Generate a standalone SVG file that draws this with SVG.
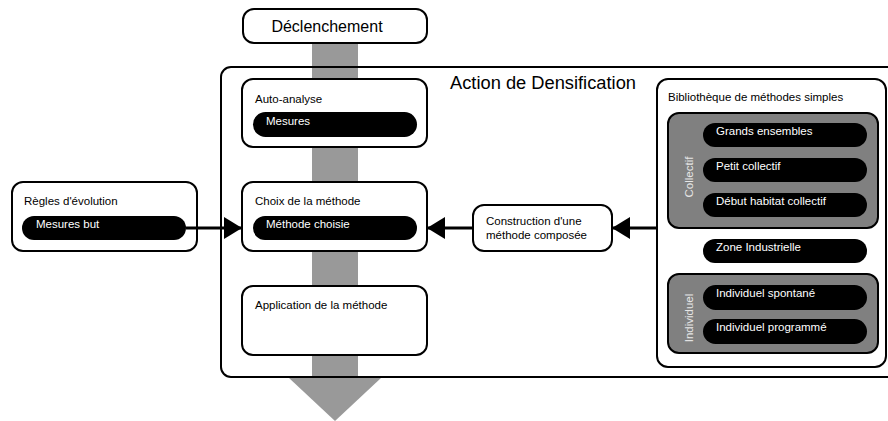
<svg xmlns="http://www.w3.org/2000/svg" width="888" height="421" viewBox="0 0 888 421">
<style>
.box{fill:#fff;stroke:#000;stroke-width:2}
.grp{fill:#808080;stroke:#000;stroke-width:2}
.pill{fill:#000}
.t{font-family:"Liberation Sans",Arial,sans-serif;font-size:11.5px;fill:#000}
.w{font-family:"Liberation Sans",Arial,sans-serif;font-size:11.5px;fill:#fff}
.v{font-family:"Liberation Sans",Arial,sans-serif;font-size:11.5px;fill:#e6e6e6}
.flow{fill:#999}
.conn{stroke:#000;stroke-width:3;fill:none}
</style>
<defs>
<marker id="ah" markerUnits="userSpaceOnUse" markerWidth="18" markerHeight="22" refX="18" refY="11" orient="auto">
<path d="M0,0 L18,11 L0,22 Z" fill="#000"/>
</marker>
</defs>
<g id="flow">
<rect class="flow" x="312" y="43" width="46" height="336"/>
<path class="flow" d="M289,378 L381,378 L335,421 Z"/>
</g>
<g id="trigger">
<rect class="box" x="243" y="9" width="184" height="34" rx="11"/>
<text x="327" y="32" text-anchor="middle" font-family="Liberation Sans, Arial, sans-serif" font-size="16">Déclenchement</text>
</g>
<g id="action">
<rect x="221" y="67" width="680" height="310" rx="10" fill="none" stroke="#000" stroke-width="2"/>
<rect class="flow" x="312" y="68" width="46" height="308"/>
<text x="450" y="89" font-family="Liberation Sans, Arial, sans-serif" font-size="18.3">Action de Densification</text>
</g>
<g id="auto-analyse">
<rect class="box" x="242" y="79" width="185" height="68" rx="11"/>
<text class="t" x="255" y="103">Auto-analyse</text>
<rect class="pill" x="253" y="112" width="164" height="25" rx="12.5"/>
<text class="w" x="266" y="125">Mesures</text>
</g>
<g id="choix">
<rect class="box" x="242" y="182" width="185" height="69" rx="11"/>
<text class="t" x="255" y="205">Choix de la méthode</text>
<rect class="pill" x="253" y="216" width="164" height="24" rx="12"/>
<text class="w" x="266" y="228">Méthode choisie</text>
</g>
<g id="application">
<rect class="box" x="242" y="286" width="185" height="69" rx="11"/>
<text class="t" x="255" y="309">Application de la méthode</text>
</g>
<g id="regles">
<rect class="box" x="12" y="182" width="185" height="69" rx="11"/>
<text class="t" x="24" y="205">Règles d'évolution</text>
<rect class="pill" x="22" y="216" width="164" height="24" rx="12"/>
<text class="w" x="36" y="228">Mesures but</text>
</g>
<g id="construction">
<rect class="box" x="473" y="205" width="139" height="46" rx="11"/>
<text class="t" x="486" y="225">Construction d'une</text>
<text class="t" x="486" y="239">méthode composée</text>
</g>
<g id="bibliotheque">
<rect class="box" x="657" y="79" width="229" height="288" rx="11"/>
<text class="t" x="668" y="101">Bibliothèque de méthodes simples</text>
</g>
<g id="collectif">
<rect class="grp" x="668" y="113" width="210" height="115" rx="11"/>
<text class="v" transform="translate(693,177) rotate(-90)" text-anchor="middle">Collectif</text>
<rect class="pill" x="703" y="123" width="164" height="24" rx="12"/>
<text class="w" x="716" y="135">Grands ensembles</text>
<rect class="pill" x="703" y="158" width="164" height="24" rx="12"/>
<text class="w" x="716" y="170">Petit collectif</text>
<rect class="pill" x="703" y="193" width="164" height="24" rx="12"/>
<text class="w" x="716" y="205">Début habitat collectif</text>
</g>
<g id="zone-industrielle">
<rect class="pill" x="703" y="239" width="164" height="24" rx="12"/>
<text class="w" x="716" y="251">Zone Industrielle</text>
</g>
<g id="individuel">
<rect class="grp" x="668" y="274" width="210" height="79" rx="11"/>
<text class="v" transform="translate(693,318) rotate(-90)" text-anchor="middle">Individuel</text>
<rect class="pill" x="703" y="285" width="164" height="25" rx="12.5"/>
<text class="w" x="716" y="297">Individuel spontané</text>
<rect class="pill" x="703" y="319" width="164" height="25" rx="12.5"/>
<text class="w" x="716" y="331">Individuel programmé</text>
</g>
<g id="connectors">
<line class="conn" x1="186" y1="228" x2="242" y2="228" marker-end="url(#ah)"/>
<line class="conn" x1="473" y1="228" x2="427" y2="228" marker-end="url(#ah)"/>
<line class="conn" x1="657" y1="228" x2="612" y2="228" marker-end="url(#ah)"/>
</g>
</svg>
